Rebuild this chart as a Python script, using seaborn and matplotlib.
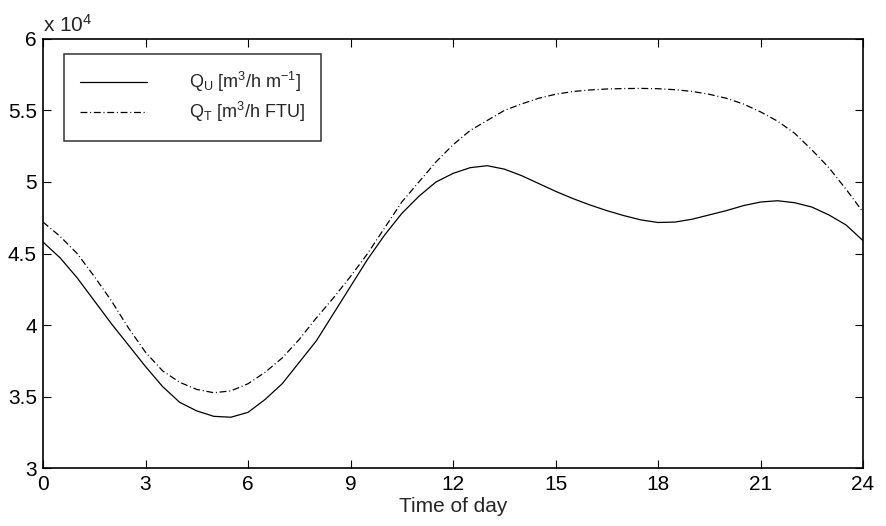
import numpy as np
import pandas as pd
import matplotlib
matplotlib.use("Agg")
import matplotlib.pyplot as plt
import matplotlib.ticker as mticker
import seaborn as sns

hours = [0, 0.5, 1, 1.5, 2, 2.5, 3, 3.5, 4, 4.5, 5, 5.5, 6, 6.5, 7, 7.5, 8, 8.5, 9, 9.5,
         10, 10.5, 11, 11.5, 12, 12.5, 13, 13.5, 14, 14.5, 15, 15.5, 16, 16.5, 17, 17.5,
         18, 18.5, 19, 19.5, 20, 20.5, 21, 21.5, 22, 22.5, 23, 23.5, 24]
q_u = [4.58, 4.47, 4.33, 4.17, 4.01, 3.86, 3.71, 3.57, 3.46, 3.40, 3.362, 3.356, 3.39,
       3.48, 3.59, 3.74, 3.89, 4.08, 4.27, 4.46, 4.63, 4.78, 4.90, 5.00, 5.06, 5.10,
       5.114, 5.09, 5.045, 4.99, 4.935, 4.885, 4.84, 4.80, 4.765, 4.735, 4.717, 4.72,
       4.74, 4.77, 4.80, 4.835, 4.86, 4.869, 4.855, 4.825, 4.77, 4.70, 4.59]
q_t = [4.72, 4.62, 4.50, 4.34, 4.17, 3.98, 3.81, 3.68, 3.60, 3.55, 3.527, 3.54, 3.59,
       3.67, 3.77, 3.90, 4.05, 4.19, 4.34, 4.50, 4.68, 4.86, 5.00, 5.14, 5.26, 5.36,
       5.43, 5.50, 5.545, 5.585, 5.613, 5.632, 5.643, 5.650, 5.653, 5.654, 5.652, 5.645,
       5.633, 5.613, 5.585, 5.545, 5.49, 5.425, 5.34, 5.225, 5.10, 4.95, 4.79]
scale = 1e4
label_u = r"Q$_\mathregular{U}$ [m$^\mathregular{3}$/h m$^{-1}$]"
label_t = r"Q$_\mathregular{T}$ [m$^\mathregular{3}$/h FTU]"
xticks = [0, 3, 6, 9, 12, 15, 18, 21, 24]
yticks = [3.0, 3.5, 4.0, 4.5, 5.0, 5.5, 6.0]

sns.set_theme(style="ticks")
plt.rcParams['font.family'] = ['Liberation Sans', 'DejaVu Sans']
plt.rcParams['mathtext.fontset'] = 'custom'
plt.rcParams['mathtext.rm'] = 'Liberation Sans'
plt.rcParams['mathtext.it'] = 'Liberation Sans'
plt.rcParams['mathtext.bf'] = 'Liberation Sans'

df_u = pd.DataFrame({"hour": hours, "val": np.array(q_u) * scale})
df_t = pd.DataFrame({"hour": hours, "val": np.array(q_t) * scale})

fig = plt.figure(figsize=(8.87, 5.26), dpi=100)
ax = fig.add_axes([0.0485, 0.110, 0.9245, 0.816])

sns.lineplot(data=df_u, x="hour", y="val", ax=ax, color="black", linewidth=0.9,
             label=label_u)
sns.lineplot(data=df_t, x="hour", y="val", ax=ax, color="black", linewidth=0.9,
             linestyle=(0, (5.5, 2.2, 0.8, 2.2)), label=label_t)

ax.set_xlim(0, 24)
ax.set_ylim(3.0 * scale, 6.0 * scale)
ax.set_xticks(xticks)
ax.set_yticks([v * scale for v in yticks])
ax.yaxis.set_major_formatter(mticker.FuncFormatter(lambda v, p: f"{v / scale:g}"))
ax.tick_params(direction="in", length=6, width=0.8, top=True, right=True,
               labelsize=15, colors="black")
ax.tick_params(axis="x", pad=5)
ax.tick_params(axis="y", pad=4.5)
for s in ax.spines.values():
    s.set_linewidth(1.2)
    s.set_color("black")
ax.set_xlabel("Time of day", fontsize=15, labelpad=2)
ax.set_ylabel("")
ax.text(0.0, 1.0163, r"x 10$^\mathregular{4}$", transform=ax.transAxes, fontsize=15,
        ha="left", va="baseline")

leg = ax.legend(loc="upper left", bbox_to_anchor=(0.0256, 0.965), borderaxespad=0,
                fontsize=13, frameon=True, fancybox=False, edgecolor="black",
                handlelength=3.7, handletextpad=2.3, borderpad=0.9, labelspacing=0.33)
leg.get_frame().set_linewidth(1.1)

fig.savefig("out.png", dpi=100, facecolor="white")
